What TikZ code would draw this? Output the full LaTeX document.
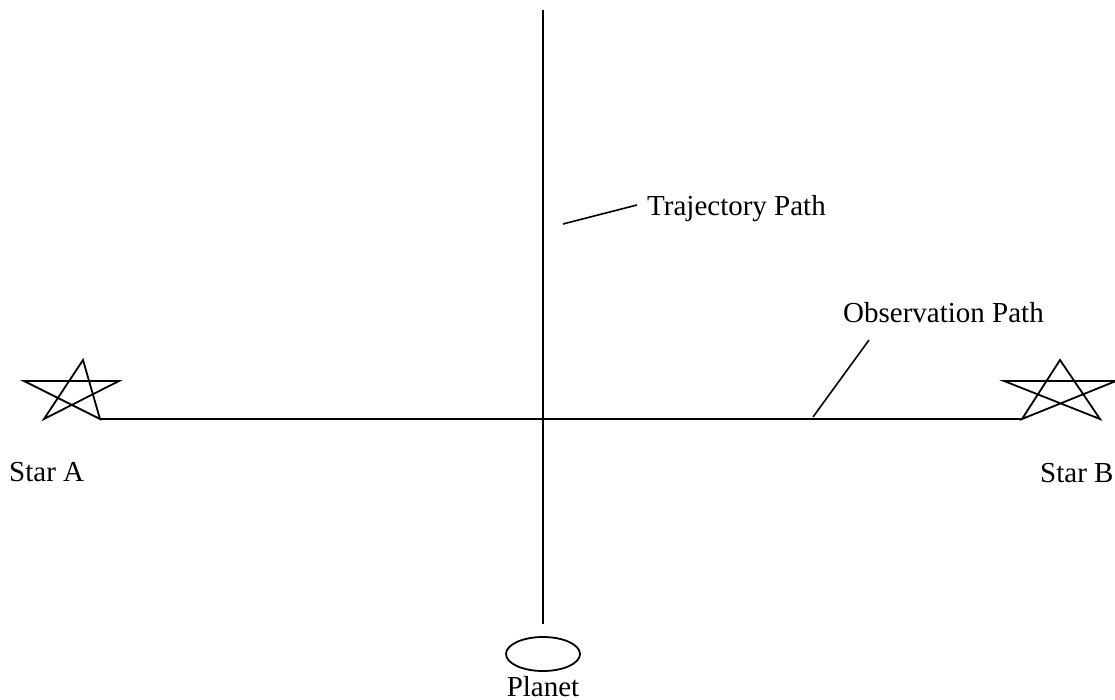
\documentclass[tikz,border=0pt]{standalone}
\usepackage{fontspec}
\setmainfont{Liberation Serif}
\usetikzlibrary{shapes.geometric}
\begin{document}
\begin{tikzpicture}[x=1pt,y=-1pt,
  lbl/.style={inner sep=0pt,font=\fontsize{29}{34}\selectfont},
  starline/.style={line width=1.8pt,line join=miter},
  mainline/.style={line width=2.2pt},
  leader/.style={line width=1.6pt}]
\useasboundingbox[fill=white] (0,0) rectangle (1115,700);
% Star A
\coordinate (aT) at (83,360);
\coordinate (aL) at (24,381);
\coordinate (aR) at (119,381);
\coordinate (aBL) at (44,419);
\coordinate (aBR) at (100,419);
\draw[starline] (aT) -- (aBR) -- (aL) -- (aR) -- (aBL) -- cycle;
% Star B
\coordinate (bT) at (1060,360);
\coordinate (bL) at (1004,381);
\coordinate (bR) at (1116,381);
\coordinate (bBL) at (1022,419);
\coordinate (bBR) at (1100,419);
\draw[starline] (bT) -- (bBR) -- (bL) -- (bR) -- (bBL) -- cycle;
% Observation path
\draw[mainline] (aBR) -- (bBL);
% Trajectory path
\coordinate (tTop) at (543,10);
\node[draw,line width=1.8pt,ellipse,minimum width=74pt,minimum height=34pt,inner sep=0pt] (planet) at (543,654) {};
\coordinate (tBot) at (543,624);
\draw[mainline] (tTop) -- (tBot);
% Labels
\node[lbl,anchor=base west] (starA) at (9,481) {Star A};
\node[lbl,anchor=base west] (starB) at (1040,482) {Star B};
\node[lbl,anchor=base] (planetlbl) at (543,696) {Planet};
\node[lbl,anchor=base west] (traj) at (647,216) {Trajectory Path};
\node[lbl,anchor=base west] (obs) at (843,322) {Observation Path};
% Leaders
\coordinate (tl1) at (563,224);
\coordinate (tl2) at (637,205);
\draw[leader] (tl1) -- (tl2);
\coordinate (ol1) at (869,340);
\coordinate (ol2) at (813,417);
\draw[leader] (ol1) -- (ol2);
\end{tikzpicture}
\end{document}
